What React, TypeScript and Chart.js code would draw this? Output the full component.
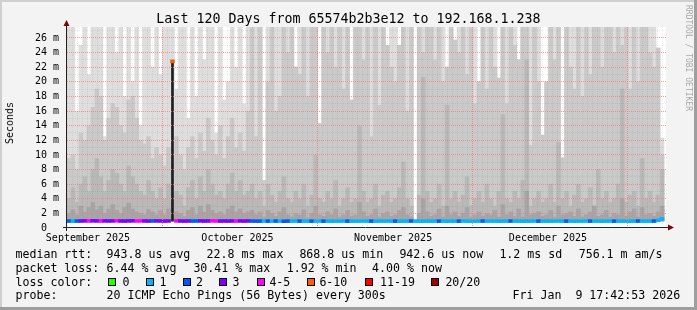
import React, { useEffect, useRef } from "react";
import { Chart, registerables } from "chart.js";

Chart.register(...registerables);

// ---------------- data ----------------
const TITLE = "Last 120 Days from 65574b2b3e12 to 192.168.1.238";
const Y_AXIS_TITLE = "Seconds";
const WATERMARK = "RRDTOOL / TOBI OETIKER";

// 150 sample columns, each 0.8 day wide (120 days)
const COLUMN_DAYS = 0.8;

// outermost smoke (max ping), in ms ("m")
const MAX_RTT = [
  27.5, 27.5, 16, 25, 27.5, 21, 27.5, 27.5, 27.5, 12.5,
  27.5, 27.5, 24, 27.5, 18, 27.5, 20, 27.5, 14, 27.5,
  27.5, 22, 27.5, 21, 27.5, 27.5, 27.5, 19, 27.5, 27.5,
  15, 27.5, 18, 27.5, 23, 27.5, 27.5, 13, 27.5, 17.5,
  20, 27.5, 22, 27.5, 17, 27.5, 27.5, 27.5, 27.5, 6.5,
  27.5, 27.5, 27.5, 27.5, 27.5, 27.5, 27.5, 22, 27.5, 27.5,
  27.5, 27.5, 27.5, 14.3, 27.5, 27.5, 27.5, 27.5, 27.5, 27.5,
  27.5, 17.5, 27.5, 27.5, 27.5, 27.5, 27.5, 27.5, 27.5, 27.5,
  25, 27.5, 27.5, 25, 27.5, 27.5, 27.5, 0.95, 27.5, 27.5,
  27.5, 27.5, 27.5, 27.5, 27.5, 22, 27.5, 25.7, 27.5, 27.5,
  27.5, 27.5, 27.5, 20, 27.5, 27.5, 27.5, 27.5, 20.5, 27.5,
  27.5, 27.5, 27.5, 23, 27.5, 27.5, 27.5, 27.5, 27.5, 12.7,
  20, 27.5, 27.5, 27.5, 9.6, 27.5, 27.5, 27.5, 27.5, 27.5,
  27.5, 27.5, 27.5, 27.5, 27.5, 27.5, 27.5, 27.5, 27.5, 27.5,
  27.5, 27.5, 27.5, 27.5, 27.5, 27.5, 27.5, 27.5, 24.6, 12.3,
];

const UPPER_RTT = [
  9.5, 10, 8, 13, 12, 14, 16.5, 19, 18, 12,
  15, 17, 16.5, 14, 13, 17.5, 18, 15, 12, 11.5,
  12.5, 9.5, 11, 10, 8.5, 11, 9, 12.5, 10, 8,
  11, 12.5, 9.5, 13, 10.5, 15, 12, 10, 14, 9.5,
  12.5, 15, 11, 13, 10.5, 16, 27.5, 12.5, 27.5, 6.5,
  20, 27.5, 16, 18, 27.5, 24, 27.5, 22, 21, 27.5,
  18, 27.5, 27.5, 14.3, 27.5, 24, 27.5, 22, 27.5, 19,
  27.5, 17.5, 27.5, 27.5, 23, 27.5, 12.5, 27.5, 16.8, 27.5,
  25, 22, 20, 25, 27.5, 16, 27.5, 0.95, 27.5, 24,
  27.5, 27.5, 23, 27.5, 20, 22, 27.5, 25.7, 24, 27.5,
  21, 27.5, 17, 20, 27.5, 19, 27.5, 22, 20.5, 27.5,
  17, 27.5, 25, 23, 27.5, 27.5, 11.3, 27.5, 20, 12.7,
  20, 27.5, 23, 27.5, 9.6, 27.5, 22, 19, 27.5, 18,
  27.5, 21, 27.5, 27.5, 22, 27.5, 27.5, 24, 27.5, 25,
  27.5, 19, 27.5, 20, 27.5, 27.5, 24, 22, 24.6, 10,
];

const MID_RTT = [
  4, 5.5, 3.5, 6, 7, 5, 8, 9.5, 7, 5,
  6.5, 8, 7.5, 6, 5, 8.5, 7, 6, 5, 4.5,
  6.5, 5, 4, 5.5, 4, 6, 3.5, 5, 4.5, 3,
  5.5, 6.5, 4, 7, 5, 8, 6, 4.5, 5, 4,
  6, 7.5, 5, 6.5, 4.5, 5, 6, 4, 5, 3,
  6, 4.5, 3.5, 5, 7, 4, 3.5, 5, 4, 6,
  3, 4.5, 10, 4, 3.5, 5, 4, 6.5, 3, 4,
  5.5, 3.5, 4, 14, 5, 3.5, 4, 6, 3, 4.5,
  5, 3.5, 4, 5.5, 9, 4, 3, 0.95, 4.5, 20.6,
  5, 3.5, 4, 6, 3, 16.8, 4, 5, 3.5, 4.5,
  7, 3, 4, 5, 3.5, 6, 4, 3, 5, 15.5,
  4, 3.5, 5, 4, 6.5, 23, 3, 4, 5, 3.5,
  4, 6, 3.5, 11.7, 4, 5, 3, 4.5, 6, 3.5,
  4, 5.5, 3, 8, 4, 5, 3.5, 4, 6, 19,
  3.5, 4.5, 5, 3, 9.5, 4, 5, 3.5, 4.5, 8,
];

const LOW_RTT = [
  2, 2.5, 1.8, 3, 2.2, 2.8, 3.5, 2.5, 3, 2,
  2.6, 3.2, 2.4, 2, 2.8, 3.4, 2.6, 2.2, 2, 1.8,
  2.5, 2.2, 1.8, 2.4, 1.8, 2.6, 1.6, 2.2, 2, 1.6,
  2.4, 2.8, 1.8, 3, 2.2, 3.2, 2.4, 2, 2.2, 1.8,
  2.6, 3, 2.2, 2.6, 2, 2.2, 2.4, 1.8, 2.2, 1.5,
  2.4, 2, 1.6, 2.2, 2.8, 1.8, 1.5, 2, 1.8, 2.5,
  1.4, 2, 3, 1.8, 1.6, 2.2, 1.8, 2.6, 1.5, 1.8,
  2.4, 1.6, 1.8, 3.5, 2.2, 1.6, 1.8, 2.6, 1.5, 2,
  2.2, 1.6, 1.8, 2.4, 2.8, 1.8, 1.5, 0.95, 2, 4,
  2.2, 1.6, 1.8, 2.6, 1.5, 3, 1.8, 2.2, 1.6, 2,
  2.8, 1.5, 1.8, 2.2, 1.6, 2, 1.8, 2.4, 1.5, 3.2,
  1.8, 2.2, 1.6, 2.6, 1.5, 5, 1.8, 2, 2.2, 1.6,
  1.8, 2.4, 1.5, 3, 1.8, 2, 2.2, 1.6, 2.6, 1.5,
  1.8, 2.2, 3, 1.6, 1.8, 2.4, 1.5, 2, 1.8, 4,
  1.6, 2.2, 2.6, 1.5, 2.8, 1.8, 2, 1.6, 2.2, 3,
];

const MEDIAN_RTT = [
  0.95, 0.94, 0.95, 0.96, 0.97, 0.96, 0.98, 0.97, 0.96, 0.97,
  0.96, 0.97, 0.98, 0.96, 0.95, 0.97, 0.98, 0.96, 0.97, 0.96,
  0.95, 0.96, 0.97, 0.96, 0.95, 0.96, 22.8, 0.97, 0.96, 0.95,
  0.96, 0.95, 0.96, 0.97, 0.95, 0.96, 0.97, 0.96, 0.95, 0.96,
  0.95, 0.96, 0.95, 0.96, 0.95, 0.96, 0.95, 0.94, 0.94, 0.95,
  0.94, 0.94, 0.95, 0.94, 0.93, 0.94, 0.94, 0.95, 0.94, 0.94,
  0.93, 0.94, 0.94, 0.95, 0.94, 0.94, 0.93, 0.94, 0.94, 0.95,
  0.94, 0.93, 0.94, 0.94, 0.95, 0.94, 0.94, 0.93, 0.94, 0.94,
  0.95, 0.94, 0.94, 0.93, 0.94, 0.94, 0.95, 0.94, 0.94, 0.93,
  0.94, 0.94, 0.95, 0.94, 0.94, 0.93, 0.94, 0.94, 0.94, 0.95,
  0.94, 0.93, 0.94, 0.94, 0.95, 0.94, 0.94, 0.94, 0.93, 0.94,
  0.94, 0.95, 0.94, 0.94, 0.93, 0.94, 0.94, 0.95, 0.94, 0.94,
  0.93, 0.94, 0.94, 0.95, 0.94, 0.94, 0.94, 0.93, 0.94, 0.94,
  0.95, 0.94, 0.94, 0.94, 0.93, 0.94, 0.95, 0.94, 0.94, 0.94,
  0.94, 0.93, 0.94, 0.95, 0.94, 0.94, 0.94, 0.95, 1.05, 1.25,
];

// lost pings (out of 20) per column
const LOSS = [
  2, 1, 2, 3, 3, 4, 3, 3, 4, 3,
  3, 3, 4, 3, 3, 3, 3, 4, 4, 3,
  3, 2, 3, 3, 3, 3, 6, 4, 3, 3,
  3, 2, 2, 3, 3, 3, 4, 4, 3, 3,
  3, 3, 4, 3, 3, 3, 2, 2, 2, 1,
  2, 1, 2, 1, 2, 2, 1, 1, 2, 1,
  1, 2, 1, 1, 2, 1, 1, 1, 1, 1,
  2, 1, 1, 1, 1, 1, 2, 1, 1, 1,
  1, 1, 2, 1, 1, 1, 2, 1, 1, 1,
  1, 1, 1, 2, 1, 1, 1, 1, 2, 1,
  1, 1, 1, 1, 2, 1, 1, 1, 1, 1,
  1, 2, 1, 1, 1, 1, 1, 1, 2, 1,
  1, 1, 1, 1, 1, 2, 1, 1, 1, 1,
  1, 2, 1, 1, 1, 1, 1, 2, 1, 1,
  1, 1, 1, 2, 1, 1, 1, 2, 1, 1,
];

const Y_TICKS = [0, 2, 4, 6, 8, 10, 12, 14, 16, 18, 20, 22, 24, 26];
const Y_TICK_LABELS = ["0  ", "2 m", "4 m", "6 m", "8 m", "10 m", "12 m", "14 m", "16 m", "18 m", "20 m", "22 m", "24 m", "26 m"];
const Y_MINOR_TICKS = [1, 3, 5, 7, 9, 11, 13, 15, 17, 19, 21, 23, 25, 27];

const MONTH_LABELS = ["September 2025", "October 2025", "November 2025", "December 2025"];
const MONTH_LABEL_DAYS = [4.22, 34.27, 65.53, 96.68];
const MAJOR_GRID_DAYS = [19.16, 50.31, 81.55, 112.62];

const LOSS_LEGEND_LABELS = ["0", "1", "2", "3", "4-5", "6-10", "11-19", "20/20"];
const LOSS_COLORS = ["#26ff00", "#00b8ff", "#0059ff", "#7e00ff", "#ff00ff", "#ff5e00", "#ff0000", "#a10000"];

const RTT_STATS = ["943.8 us avg", "22.8 ms max", "868.8 us min", "942.6 us now", "1.2 ms sd", "756.1 m am/s"];
const LOSS_STATS = ["6.44 % avg", "30.41 % max", "1.92 % min", "4.00 % now"];
const PROBE_TEXT = "20 ICMP Echo Pings (56 Bytes) every 300s";
const STAMP_TEXT = "Fri Jan  9 17:42:53 2026";

// ---------------- layout / style ----------------
const W = 697;
const H = 310;
const PLOT_LEFT = 67;
const PLOT_RIGHT = 666;
const PLOT_TOP = 27;
const PLOT_BOTTOM = 228;
const X_MAX = 120.4;
const Y_MAX = 27.5;
const SMOKE_FLOOR = 0.95;
const MINOR_X_STEP = 1.005;
const MINOR_X_START = 0.07;

const MAJOR_GRID_COLOR = "rgba(255,120,120,0.75)";
const MINOR_GRID_COLOR = "rgba(110,110,110,0.12)";

const RTT_STAT_X = [106.6, 206.6, 299.4, 399.4, 499.4, 578.7];
const LOSS_STAT_X = [106.6, 193.4, 286.7, 372.1];
const LOSS_BOX_X = [108, 146, 183, 219, 257, 307, 365, 431];
const LOSS_TEXT_X = [122.6, 159.4, 196, 232.6, 269.4, 319.4, 380, 445.4];
const ROW_TOPS = [247.3, 261, 274.7, 288.3];

const MONO = "'DejaVu Sans Mono', monospace";

const lossIndex = (n: number) =>
  n <= 0 ? 0 : n === 1 ? 1 : n === 2 ? 2 : n === 3 ? 3 : n <= 5 ? 4 : n <= 10 ? 5 : n <= 19 ? 6 : 7;

const colDay = (i: number) => (i + 0.5) * COLUMN_DAYS;
const smoke = (arr: number[]) => arr.map((v, i) => ({ x: colDay(i), y: [SMOKE_FLOOR, Math.max(SMOKE_FLOOR, v)] }));

const framePlugin = {
  id: "rrdFrame",
  beforeDraw(chart: any) {
    const { ctx, width, height, chartArea: a } = chart;
    ctx.save();
    ctx.fillStyle = "#f3f3f3";
    ctx.fillRect(0, 0, width, height);
    ctx.fillStyle = "#cfcfcf";
    ctx.fillRect(0, 0, width, 2);
    ctx.fillRect(0, 0, 2, height);
    ctx.fillStyle = "#9e9e9e";
    ctx.fillRect(0, height - 3, width, 3);
    ctx.fillRect(width - 3, 0, 3, height);
    ctx.fillStyle = "#ffffff";
    ctx.fillRect(a.left, a.top, a.right - a.left, a.bottom - a.top);
    ctx.restore();
  },
  afterDraw(chart: any) {
    const { ctx, chartArea: a } = chart;
    ctx.save();
    ctx.strokeStyle = "#222222";
    ctx.lineWidth = 1;
    ctx.beginPath();
    ctx.moveTo(a.left - 4, a.bottom - 0.5);
    ctx.lineTo(a.right + 2, a.bottom - 0.5);
    ctx.moveTo(a.left - 0.5, a.bottom + 3);
    ctx.lineTo(a.left - 0.5, a.top - 1);
    ctx.stroke();
    ctx.fillStyle = "#7f0000";
    ctx.beginPath();
    ctx.moveTo(a.right + 2, a.bottom - 3.5);
    ctx.lineTo(a.right + 8, a.bottom - 0.5);
    ctx.lineTo(a.right + 2, a.bottom + 2.5);
    ctx.closePath();
    ctx.fill();
    ctx.beginPath();
    ctx.moveTo(a.left - 3.5, a.top - 1);
    ctx.lineTo(a.left - 0.5, a.top - 7);
    ctx.lineTo(a.left + 2.5, a.top - 1);
    ctx.closePath();
    ctx.fill();
    ctx.restore();
  },
};

const hiddenTicks = { display: false };

export default function App() {
  const canvasRef = useRef<HTMLCanvasElement | null>(null);

  useEffect(() => {
    const canvas = canvasRef.current;
    if (!canvas) return;
    const barBase = {
      type: "bar" as const,
      xAxisID: "x",
      yAxisID: "y",
      grouped: false,
      barPercentage: 1,
      categoryPercentage: 1,
      borderWidth: 0,
    };
    const chart = new Chart(canvas, {
      type: "bar",
      data: {
        datasets: [
          { ...barBase, label: "median", order: 0, data: MEDIAN_RTT.map((v, i) => ({ x: colDay(i), y: [v - 0.2, v + 0.2] })), backgroundColor: LOSS.map((n) => LOSS_COLORS[lossIndex(n)]) },
          { ...barBase, label: "spike", order: 1, barThickness: 2, data: MEDIAN_RTT.map((v, i) => ({ x: colDay(i), y: v > 3 ? [SMOKE_FLOOR, v] : null })), backgroundColor: "#1c1c1c" },
          { ...barBase, label: "low", order: 2, data: smoke(LOW_RTT), backgroundColor: "#a6a6a6" },
          { ...barBase, label: "mid", order: 3, data: smoke(MID_RTT), backgroundColor: "#b9b9b9" },
          { ...barBase, label: "upper", order: 4, data: smoke(UPPER_RTT), backgroundColor: "#cacaca" },
          { ...barBase, label: "max", order: 5, data: smoke(MAX_RTT), backgroundColor: "#dedede" },
        ] as any,
      },
      options: {
        responsive: false,
        devicePixelRatio: 1,
        animation: false,
        events: [],
        layout: { padding: { left: 0, top: PLOT_TOP, right: W - PLOT_RIGHT, bottom: 0 } },
        plugins: { legend: { display: false }, tooltip: { enabled: false }, title: { display: false } },
        scales: {
          x: {
            type: "linear",
            position: "bottom",
            min: 0,
            max: X_MAX,
            offset: false,
            afterBuildTicks: (s: any) => { s.ticks = MONTH_LABEL_DAYS.map((v) => ({ value: v })); },
            afterFit: (s: any) => { s.height = H - PLOT_BOTTOM; },
            ticks: {
              autoSkip: false,
              maxRotation: 0,
              minRotation: 0,
              padding: 4,
              color: "#000",
              font: { family: MONO, size: 10 },
              callback: (_v: any, i: number) => MONTH_LABELS[i],
            },
            grid: { display: false, drawTicks: false, offset: false },
            border: { display: false },
          },
          xMinor: {
            type: "linear",
            position: "bottom",
            min: 0,
            max: X_MAX,
            offset: false,
            afterBuildTicks: (s: any) => {
              const t: any[] = [];
              for (let v = MINOR_X_START; v < X_MAX; v += MINOR_X_STEP) t.push({ value: v });
              s.ticks = t;
            },
            afterFit: (s: any) => { s.height = 0; },
            ticks: hiddenTicks,
            grid: { color: MINOR_GRID_COLOR, drawTicks: false, offset: false, z: 1 },
            border: { display: false, dash: [1, 1] },
          },
          yMinor: {
            type: "linear",
            position: "left",
            min: 0,
            max: Y_MAX,
            afterBuildTicks: (s: any) => { s.ticks = Y_MINOR_TICKS.map((v) => ({ value: v })); },
            afterFit: (s: any) => { s.width = 0; },
            ticks: hiddenTicks,
            grid: { color: MINOR_GRID_COLOR, drawTicks: false, z: 1 },
            border: { display: false, dash: [1, 1] },
          },
          xMajor: {
            type: "linear",
            position: "bottom",
            min: 0,
            max: X_MAX,
            offset: false,
            afterBuildTicks: (s: any) => { s.ticks = MAJOR_GRID_DAYS.map((v) => ({ value: v })); },
            afterFit: (s: any) => { s.height = 0; },
            ticks: hiddenTicks,
            grid: { color: MAJOR_GRID_COLOR, drawTicks: false, offset: false, z: 2 },
            border: { display: false, dash: [1, 1] },
          },
          y: {
            type: "linear",
            position: "left",
            min: 0,
            max: Y_MAX,
            afterBuildTicks: (s: any) => { s.ticks = Y_TICKS.map((v) => ({ value: v })); },
            afterFit: (s: any) => { s.width = PLOT_LEFT; },
            ticks: {
              autoSkip: false,
              padding: 8,
              color: "#000",
              font: { family: MONO, size: 10 },
              callback: (_v: any, i: number) => Y_TICK_LABELS[i],
            },
            grid: { color: (c: any) => (c.tick && c.tick.value === 0 ? "rgba(0,0,0,0)" : MAJOR_GRID_COLOR), drawTicks: false, z: 2 },
            border: { display: false, dash: [1, 1] },
          },
        },
      } as any,
      plugins: [framePlugin],
    });
    return () => chart.destroy();
  }, []);

  const text = (s: string, left: number, top: number, key: string) => (
    <div
      key={key}
      style={{ position: "absolute", left, top, fontFamily: MONO, fontSize: 11.6, lineHeight: "14px", whiteSpace: "pre", color: "#000" }}
    >
      {s}
    </div>
  );

  return (
    <div style={{ position: "fixed", left: 0, top: 0, width: W, height: H, overflow: "hidden" }}>
      <canvas ref={canvasRef} width={W} height={H} style={{ position: "absolute", left: 0, top: 0, width: W, height: H }} />
      <div
        style={{ position: "absolute", left: 0, top: 11.4, width: W, textAlign: "center", fontFamily: MONO, fontSize: 13.3, lineHeight: "16px", whiteSpace: "pre", color: "#000" }}
      >
        {TITLE}
      </div>
      <div
        style={{ position: "absolute", left: 10, top: 123, transform: "translate(-50%, -50%) rotate(-90deg)", fontFamily: MONO, fontSize: 10, lineHeight: "12px", whiteSpace: "pre", color: "#000" }}
      >
        {Y_AXIS_TITLE}
      </div>
      <div
        style={{ position: "absolute", left: 684, top: 5, writingMode: "vertical-rl", fontFamily: MONO, fontSize: 8, lineHeight: "9px", whiteSpace: "pre", color: "#a8a8a8" }}
      >
        {WATERMARK}
      </div>
      {text("median rtt:", 15.5, ROW_TOPS[0], "r0")}
      {RTT_STATS.map((s, i) => text(s, RTT_STAT_X[i], ROW_TOPS[0], "rs" + i))}
      {text("packet loss:", 15.5, ROW_TOPS[1], "l0")}
      {LOSS_STATS.map((s, i) => text(s, LOSS_STAT_X[i], ROW_TOPS[1], "ls" + i))}
      {text("loss color:", 15.5, ROW_TOPS[2], "c0")}
      {LOSS_LEGEND_LABELS.map((s, i) => (
        <React.Fragment key={"lc" + i}>
          <div
            style={{ position: "absolute", left: LOSS_BOX_X[i], top: 278, width: 8, height: 8, boxSizing: "border-box", border: "1px solid #000", background: LOSS_COLORS[i] }}
          />
          {text(s, LOSS_TEXT_X[i], ROW_TOPS[2], "lt" + i)}
        </React.Fragment>
      ))}
      {text("probe:", 15.5, ROW_TOPS[3], "p0")}
      {text(PROBE_TEXT, 106.6, ROW_TOPS[3], "p1")}
      {text(STAMP_TEXT, 512.6, ROW_TOPS[3], "p2")}
    </div>
  );
}
